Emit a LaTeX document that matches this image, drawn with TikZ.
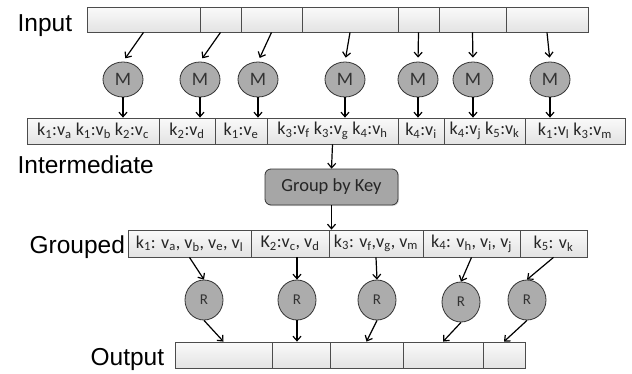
\documentclass[tikz,border=0pt]{standalone}
\usepackage{fontspec}
\setmainfont{Liberation Sans}
\newfontfamily\cellfont{Carlito}
\usetikzlibrary{arrows.meta,shapes.geometric,shadows}
\newcommand{\kv}[2]{k\textsubscript{#1}:v\textsubscript{#2}}
\newcommand{\vs}[1]{v\textsubscript{#1}}
\begin{document}
\begin{tikzpicture}[x=1pt,y=-1pt,
        cell/.style={draw=black!70,top color=gray!4,bottom color=gray!22,
            minimum height=26pt,inner sep=0pt,text=black!85,line width=0.8pt,
            font=\cellfont\fontsize{18}{18}\selectfont,
            drop shadow={shadow xshift=1pt,shadow yshift=-1pt,opacity=0.25}},
        mapper/.style={ellipse,draw=black!80,fill=gray!65,minimum width=40pt,
            minimum height=35pt,inner sep=0pt,text=black!80,line width=0.8pt,
            font=\cellfont\fontsize{19}{19}\selectfont},
        reducer/.style={ellipse,draw=black!80,fill=gray!65,minimum width=38pt,
            minimum height=40pt,inner sep=0pt,text=black!80,line width=0.8pt,
            font=\cellfont\fontsize{15}{15}\selectfont},
        stage/.style={anchor=base west,inner sep=0pt,
            font=\fontsize{24.5}{24.5}\selectfont},
        >={Straight Barb[length=4.5pt,width=8pt]},line width=1.2pt]
\useasboundingbox (0,0) rectangle (632,373);

\foreach \n/\xa/\xb in {1/87/200,2/200/241,3/241/302,4/302/398,5/398/439,6/439/506,7/506/588}
    \node[cell,minimum width=\xb pt-\xa pt,minimum height=25pt] (in\n) at ({(\xa+\xb)/2},19.5) {};

\foreach \n/\x in {1/123,2/200,3/258,4/345,5/418,6/473,7/550}
    \node[mapper] (m\n) at (\x,79.5) {M};

\foreach \n/\xa/\xb/\t in {1/27/159/{\kv1a \kv1b \kv2c},2/159/215/{\kv2d},3/215/267/{\kv1e},
        4/267/398/{\kv3f \kv3g \kv4h},5/398/444/{\kv4i},6/444/525/{\kv4j \kv5k},
        7/525/625/{\kv1l \kv3m}}
    \node[cell,minimum width=\xb pt-\xa pt] (int\n) at ({(\xa+\xb)/2},131) {\t};

\foreach \n in {1,...,7}
{
    \draw[->,shorten >=4pt] (in\n.south) -- (m\n.north);
    \draw[->] (m\n.south) -- (m\n |- int\n.north);
}

\node[draw=black!80,fill=gray!70,rounded corners=6pt,minimum width=133pt,
    minimum height=36pt,text=black!85,line width=0.8pt,font=\cellfont\fontsize{18.5}{18.5}\selectfont,
    drop shadow={shadow xshift=1pt,shadow yshift=-1pt,opacity=0.25}] (gbk) at (331.5,187) {Group by Key};

\foreach \n/\xa/\xb/\t in {1/128/251/{k\textsubscript{1}: \vs{a}, \vs{b}, \vs{e}, \vs{l}},
        2/251/329/{K\textsubscript{2}:\vs{c}, \vs{d}},3/329/423/{k\textsubscript{3}: \vs{f},\vs{g}, \vs{m}},
        4/423/520/{k\textsubscript{4}: \vs{h}, \vs{i}, \vs{j}},5/520/587/{k\textsubscript{5}: \vs{k}}}
    \node[cell,minimum height=27pt] (grp\n) [minimum width=\xb pt-\xa pt] at ({(\xa+\xb)/2},243.5) {\t};

\draw[->] (int4.south) -- (gbk.north);
\draw[->] (gbk.south) -- (gbk.south |- grp3.north);

\foreach \n/\x/\y in {1/204/300,2/297/300,3/377/300,4/461/302,5/527/300}
    \node[reducer] (r\n) at (\x,\y) {R};

\foreach \n/\xa/\xb in {1/175/272,2/272/330,3/330/403,4/403/483,5/483/525}
    \node[cell,minimum width=\xb pt-\xa pt] (out\n) at ({(\xa+\xb)/2},355) {};

\draw[->] (grp1.south) -- (r1.north);
\draw[->] (r2 |- grp2.south) -- (r2.north);
\draw[->] (grp3.south) -- (r3.north);
\draw[->] (grp4.south) -- (r4.north);
\draw[->] (grp5.south) -- (r5.north);

\draw[->] (r1.south) -- (out1.north);
\draw[->] (r2.south) -- (r2 |- out2.north);
\draw[->] (r3.south) -- (out3.north);
\draw[->] (r4.south) -- (out4.north);
\draw[->] (r5.south) -- (out5.north);

\node[stage] (lin) at (17,31) {Input};
\node[stage] (lint) at (17,173) {Intermediate};
\node[stage] (lgrp) at (29,253) {Grouped};
\node[stage] (lout) at (90,365) {Output};
\end{tikzpicture}
\end{document}
